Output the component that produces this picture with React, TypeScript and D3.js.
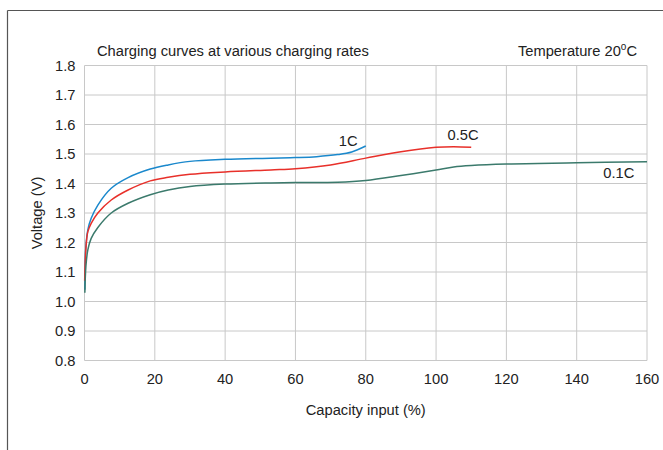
import React from "react";
import * as d3 from "d3";

const xTicks = [0, 20, 40, 60, 80, 100, 120, 140, 160];
const yTicks = [0.8, 0.9, 1.0, 1.1, 1.2, 1.3, 1.4, 1.5, 1.6, 1.7, 1.8];

const series1C: [number, number][] = [
  [0.1, 1.04], [0.33, 1.175], [0.95, 1.243], [1.9, 1.282], [3.8, 1.327], [7.6, 1.384],
  [12.4, 1.42], [18.7, 1.449], [23.8, 1.463], [30, 1.475], [40, 1.482], [53, 1.486],
  [60, 1.488], [66, 1.491], [72, 1.498], [76, 1.507], [80, 1.527],
];
const series05C: [number, number][] = [
  [0.05, 1.07], [0.4, 1.18], [0.95, 1.237], [1.9, 1.265], [3.8, 1.3], [7.6, 1.344],
  [12.4, 1.378], [18.7, 1.409], [23.8, 1.421], [30, 1.431], [40, 1.439], [53, 1.446],
  [60, 1.45], [70, 1.463], [80, 1.486], [90, 1.508], [100, 1.523], [105, 1.525], [110, 1.523],
];
const series01C: [number, number][] = [
  [0.1, 1.03], [0.4, 1.12], [0.95, 1.175], [1.9, 1.214], [3.8, 1.251], [7.6, 1.3],
  [12.4, 1.333], [18.7, 1.362], [23.8, 1.378], [30, 1.39], [40, 1.398], [53, 1.402],
  [60, 1.403], [72, 1.404], [80, 1.41], [90, 1.427], [100, 1.446], [105, 1.456],
  [110, 1.461], [120, 1.466], [140, 1.47], [160, 1.474],
];

const seriesList = [
  { name: "1C", data: series1C, color: "#1a88cc", labelAt: [75, 1.527] as [number, number] },
  { name: "0.5C", data: series05C, color: "#e8302a", labelAt: [107.7, 1.547] as [number, number] },
  { name: "0.1C", data: series01C, color: "#3b7a6c", labelAt: [152, 1.419] as [number, number] },
];

const W = 663;
const H = 450;
const margin = { left: 84.5, right: 16, top: 65.5, bottom: 89.5 };
const font = "'Liberation Sans', Arial, Helvetica, sans-serif";
const fs = 14.7;

export default function App() {
  const x = d3.scaleLinear().domain([0, 160]).range([margin.left, W - margin.right]);
  const y = d3.scaleLinear().domain([0.8, 1.8]).range([H - margin.bottom, margin.top]);
  const line = d3
    .line<[number, number]>()
    .x((d) => x(d[0]))
    .y((d) => y(d[1]))
    .curve(d3.curveCatmullRom.alpha(0.5));

  return (
    <svg
      width={W}
      height={H}
      style={{ position: "absolute", left: 0, top: 0, background: "#fff" }}
      fontFamily={font}
    >
      <rect x={0} y={0} width={W} height={H} fill="#fff" />
      {/* frame */}
      <line x1={7.5} y1={10.5} x2={W} y2={10.5} stroke="#555" strokeWidth={1.2} />
      <line x1={7.5} y1={10.5} x2={7.5} y2={H} stroke="#555" strokeWidth={1.2} />

      {/* grid */}
      {xTicks.map((t) => (
        <line key={"gx" + t} x1={x(t)} x2={x(t)} y1={y(0.8)} y2={y(1.8)} stroke="#c8c8c8" strokeWidth={1} />
      ))}
      {yTicks.map((t) => (
        <line key={"gy" + t} x1={x(0)} x2={x(160)} y1={y(t)} y2={y(t)} stroke="#c8c8c8" strokeWidth={1} />
      ))}

      {/* tick labels */}
      {xTicks.map((t) => (
        <text key={"tx" + t} x={x(t)} y={y(0.8) + 23} textAnchor="middle" fontSize={fs} fill="#222">
          {t}
        </text>
      ))}
      {yTicks.map((t) => (
        <text key={"ty" + t} x={x(0) - 9} y={y(t) + 5} textAnchor="end" fontSize={fs} fill="#222">
          {t.toFixed(1)}
        </text>
      ))}

      {/* axis titles */}
      <text x={(x(0) + x(160)) / 2} y={y(0.8) + 54} textAnchor="middle" fontSize={fs} fill="#222">
        Capacity input (%)
      </text>
      <text
        transform={`translate(${42},${(y(0.8) + y(1.8)) / 2}) rotate(-90)`}
        textAnchor="middle"
        fontSize={fs}
        fill="#222"
      >
        Voltage (V)
      </text>

      {/* titles */}
      <text x={97} y={56} fontSize={fs} fill="#222">
        Charging curves at various charging rates
      </text>
      <text x={637} y={56} textAnchor="end" fontSize={fs} fill="#222">
        Temperature 20<tspan dy={-6} fontSize={10}>o</tspan>
        <tspan dy={6}>C</tspan>
      </text>

      {/* curves */}
      {seriesList.map((s) => (
        <path key={s.name} d={line(s.data) || ""} fill="none" stroke={s.color} strokeWidth={1.5} />
      ))}
      {seriesList.map((s) => (
        <text key={"l" + s.name} x={x(s.labelAt[0])} y={y(s.labelAt[1])} textAnchor="middle" fontSize={fs} fill="#222">
          {s.name}
        </text>
      ))}
    </svg>
  );
}
